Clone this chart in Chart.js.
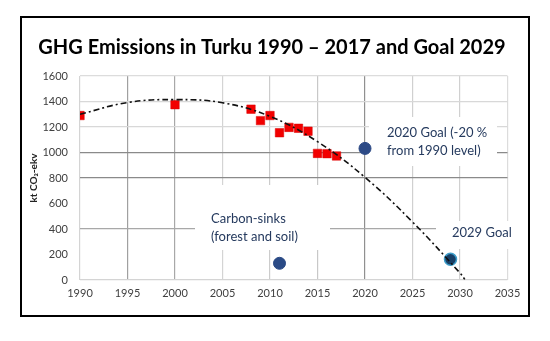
<!DOCTYPE html>
<html>
<head>
<meta charset="utf-8">
<script src="https://cdn.jsdelivr.net/npm/chart.js@4"></script>
<style>
  html, body { margin: 0; padding: 0; background: #fff; }
  #wrap { width: 550px; height: 341px; }
</style>
</head>
<body>
<div id="wrap"><canvas id="ghg"></canvas></div>
<script>
// measured emissions (kt CO2-ekv)
const years = [1990, 2000, 2008, 2009, 2010, 2011, 2012, 2013, 2014, 2015, 2016, 2017];
const emissions = [1290, 1375, 1340, 1250, 1290, 1155, 1197, 1190, 1167, 993, 991, 973];

// goals and sinks
const goal2020 = [{x: 2020, y: 1032}];
const goal2029 = [{x: 2029, y: 162}];
const sinks = [{x: 2011, y: 131}];

// trend line
const trendYears = [1990, 1995, 2000, 2005, 2010, 2015, 2020, 2025, 2030, 2030.5];
const trendValues = [1300, 1392, 1415, 1390, 1283, 1085, 805, 455, 55, 5];

const yTicks = [0, 200, 400, 600, 800, 1000, 1200, 1400, 1600];
const xTicks = [1990, 1995, 2000, 2005, 2010, 2015, 2020, 2025, 2030, 2035];

const chartTitle = 'GHG Emissions in Turku 1990 \u2013 2017 and Goal 2029';

const yGridColors = {0: '#d4d4d4', 200: 'rgba(0,0,0,0)', 400: '#a8a8a8', 600: 'rgba(0,0,0,0)',
  800: '#8a8a8a', 1000: '#8a8a8a', 1200: '#d8d8d8', 1400: '#d8d8d8', 1600: '#dcdcdc'};
const xGridColors = {1990: '#d4d4d4', 1995: '#a0a0a0', 2000: '#a8a8a8', 2005: '#d4d4d4', 2010: '#cccccc',
  2015: '#c8c8c8', 2020: '#909090', 2025: '#d0d0d0', 2030: '#d0d0d0', 2035: '#dcdcdc'};

const pts = (xs, ys) => xs.map((x, i) => ({x: x, y: ys[i]}));

const textColor = '#253a5e';
const notes = [
  {lines: ['Carbon-sinks', '(forest and soil)'], x: 211, y: 219, box: [195, 185, 135, 65]},
  {lines: ['2020 Goal (-20 %', 'from 1990 level)'], x: 387, y: 133, box: [369, 117, 128, 49]},
  {lines: ['2029 Goal'], x: 452, y: 233, box: [436, 221, 90, 28]}
];

// white text boxes that hide the grid, like the original
const notesPlugin = {
  id: 'notes',
  beforeDatasetsDraw(chart) {
    const c = chart.ctx;
    c.save();
    notes.forEach(n => {
      c.fillStyle = '#ffffff';
      c.fillRect(n.box[0], n.box[1], n.box[2], n.box[3]);
      c.fillStyle = textColor;
      c.font = '13px Lato';
      c.textBaseline = 'middle';
      n.lines.forEach((t, i) => c.fillText(t, n.x, n.y + i * 18));
    });
    c.restore();
  }
};

// outer frame + title
const framePlugin = {
  id: 'frame',
  beforeDraw(chart) {
    const c = chart.ctx;
    c.save();
    c.fillStyle = '#fff';
    c.fillRect(0, 0, chart.width, chart.height);
    c.strokeStyle = '#000';
    c.lineWidth = 2;
    c.strokeRect(21, 17, 508, 299);
    c.fillStyle = '#000';
    c.font = 'bold 20px Lato';
    c.textAlign = 'center';
    c.textBaseline = 'alphabetic';
    c.fillText(chartTitle, 272, 53.5);
    c.restore();
  }
};

new Chart(document.getElementById('ghg'), {
  type: 'scatter',
  data: {
    datasets: [
      {
        label: 'Trend',
        data: pts(trendYears, trendValues),
        showLine: true,
        borderColor: '#111',
        borderWidth: 1.6,
        borderDash: [6, 3, 2, 3],
        tension: 0.4,
        pointRadius: 0
      },
      {
        label: 'Emissions',
        data: pts(years, emissions),
        pointStyle: 'rect',
        pointRadius: 6,
        backgroundColor: '#f20000',
        borderColor: '#d80000',
        borderWidth: 0.5
      },
      {
        label: '2020 Goal',
        data: goal2020,
        pointRadius: 6,
        backgroundColor: '#2d4a86',
        borderColor: '#2d4a86'
      },
      {
        label: 'Carbon-sinks',
        data: sinks,
        pointRadius: 6,
        backgroundColor: '#2a4a86',
        borderColor: '#2a4a86'
      },
      {
        label: '2029 Goal',
        data: goal2029,
        pointRadius: 6,
        backgroundColor: '#183f66',
        borderColor: '#3d9cc8',
        borderWidth: 1.5
      }
    ]
  },
  options: {
    responsive: true,
    maintainAspectRatio: false,
    animation: false,
    layout: {padding: {left: 24, right: 42.5, top: 76, bottom: 30}},
    plugins: {
      legend: {display: false},
      tooltip: {enabled: false},
      title: {display: false}
    },
    scales: {
      x: {
        type: 'linear',
        min: 1990,
        max: 2035,
        afterBuildTicks: s => { s.ticks = xTicks.map(v => ({value: v})); },
        afterFit: s => { s.height = 31; },
        border: {display: false},
        grid: {
          drawTicks: false,
          color: ctx => xGridColors[ctx.tick.value] || '#d0d0d0',
          lineWidth: 1.2
        },
        ticks: {
          padding: 7,
          color: '#404040',
          font: {family: 'Lato', size: 11},
          callback: v => String(v)
        }
      },
      y: {
        min: 0,
        max: 1600,
        afterBuildTicks: s => { s.ticks = yTicks.map(v => ({value: v})); },
        afterFit: s => { s.width = 56; },
        border: {display: false},
        grid: {
          drawTicks: false,
          color: ctx => yGridColors[ctx.tick.value] || '#d0d0d0',
          lineWidth: 1.2
        },
        ticks: {
          padding: 12,
          color: '#404040',
          font: {family: 'Lato', size: 11},
          callback: v => String(v)
        },
        title: {
          display: true,
          text: 'kt CO\u2082-ekv',
          color: '#222',
          font: {family: 'Lato', size: 10, weight: 'bold'},
          padding: {top: 4, bottom: 0}
        }
      }
    }
  },
  plugins: [framePlugin, notesPlugin]
});
</script>
</body>
</html>
